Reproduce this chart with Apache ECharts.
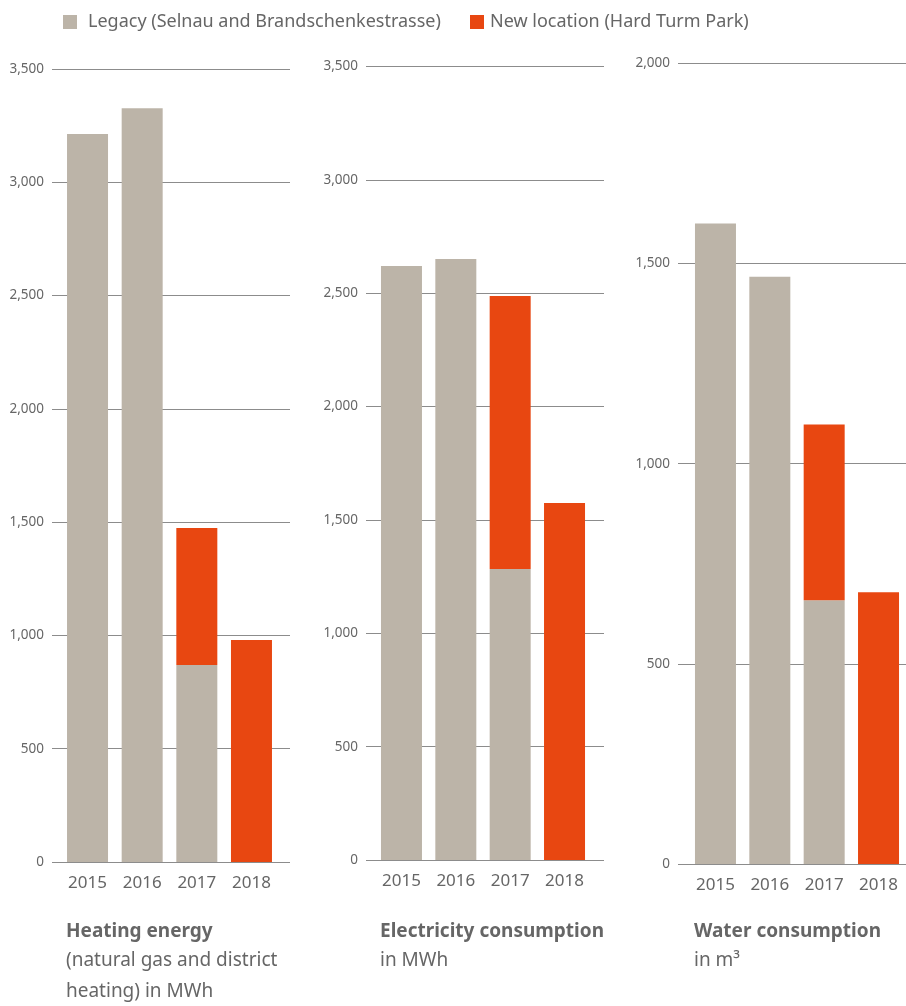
<!DOCTYPE html>
<html>
<head>
<meta charset="utf-8">
<script src="https://cdn.jsdelivr.net/npm/echarts@6/dist/echarts.min.js"></script>
<style>
html,body{margin:0;padding:0;background:#fff;}
#chart{width:906px;height:1006px;}
</style>
</head>
<body>
<div id="chart"></div>
<script>
// ---- data ----
const years = ['2015', '2016', '2017', '2018'];
const seriesNames = ['Legacy (Selnau and Brandschenkestrasse)', 'New location (Hard Turm Park)'];

const heatingLegacy = [3213, 3327, 869, null];
const heatingNew = [null, null, 605, 980];

const electricityLegacy = [2620, 2651, 1284, null];
const electricityNew = [null, null, 1204, 1575];

const waterLegacy = [1600, 1467, 659, null];
const waterNew = [null, null, 439, 679];

const heatingTitle = ['Heating energy', '(natural gas and district', 'heating) in MWh'];
const electricityTitle = ['Electricity consumption', 'in MWh'];
const waterTitle = ['Water consumption', 'in m³'];

const axisMax = [3500, 3500, 2000];
const axisInterval = [500, 500, 500];

// ---- layout ----
const FONT = 'Noto Sans';
const TEXT = '#666666';
const GREY = '#bcb4a8';
const RED = '#e84711';

const panels = [
  { legacy: heatingLegacy, neu: heatingNew, title: heatingTitle, lineL: 52, lineR: 290, bandL: 60.2, bandR: 278.8, top: 69, zero: 862, titleX: 66 },
  { legacy: electricityLegacy, neu: electricityNew, title: electricityTitle, lineL: 366, lineR: 604, bandL: 374.3, bandR: 591.7, top: 66.6, zero: 860, titleX: 380 },
  { legacy: waterLegacy, neu: waterNew, title: waterTitle, lineL: 678, lineR: 906, bandL: 688.3, bandR: 905.7, top: 63.4, zero: 864, titleX: 694 }
];

const grid = [], xAxis = [], yAxis = [], series = [], graphic = [];

panels.forEach((p, i) => {
  const gA = grid.length;
  grid.push({ left: p.lineL, width: p.lineR - p.lineL, top: p.top, height: p.zero - p.top, containLabel: false });
  const gB = grid.length;
  grid.push({ left: p.bandL, width: p.bandR - p.bandL, top: p.top, height: p.zero - p.top, containLabel: false });

  xAxis.push({ gridIndex: gA, type: 'value', min: 0, max: 1, show: false });
  xAxis.push({
    gridIndex: gB, type: 'category', data: years,
    axisLine: { show: false }, axisTick: { show: false },
    axisLabel: { fontFamily: FONT, fontSize: 17, color: TEXT, margin: 13 }
  });

  yAxis.push({
    gridIndex: gA, type: 'value', min: 0, max: axisMax[i], interval: axisInterval[i],
    axisLine: { show: false }, axisTick: { show: false },
    axisLabel: { fontFamily: FONT, fontSize: 13.5, color: TEXT, margin: 8 },
    splitLine: { show: true, lineStyle: { color: '#8c8c8c', width: 1 } }
  });
  yAxis.push({ gridIndex: gB, type: 'value', min: 0, max: axisMax[i], show: false, splitLine: { show: false } });

  series.push({
    name: seriesNames[0], type: 'bar', stack: 's' + i, xAxisIndex: gB, yAxisIndex: gB,
    barWidth: 41, data: p.legacy, itemStyle: { color: GREY }, silent: true
  });
  series.push({
    name: seriesNames[1], type: 'bar', stack: 's' + i, xAxisIndex: gB, yAxisIndex: gB,
    barWidth: 41, data: p.neu, itemStyle: { color: RED }, silent: true
  });

  p.title.forEach((t, k) => {
    graphic.push({
      type: 'text', left: p.titleX, top: (k === 0 ? 922 : 920) + k * 31,
      style: {
        text: t, fill: TEXT,
        font: (k === 0 ? 'bold 19px ' : '19px ') + '"' + FONT + '"'
      }
    });
  });
});

const option = {
  animation: false,
  backgroundColor: '#ffffff',
  legend: [
    { data: [seriesNames[0]], left: 58, top: 8, icon: 'rect', itemWidth: 14, itemHeight: 14, selectedMode: false,
      textStyle: { fontFamily: FONT, fontSize: 18, color: TEXT, padding: [0, 0, 0, 6] } },
    { data: [seriesNames[1]], left: 465, top: 8, icon: 'rect', itemWidth: 14, itemHeight: 14, selectedMode: false,
      textStyle: { fontFamily: FONT, fontSize: 18, color: TEXT, padding: [0, 0, 0, 1] } }
  ],
  grid, xAxis, yAxis, series, graphic
};

const chart = echarts.init(document.getElementById('chart'), null, { renderer: 'canvas' });
chart.setOption(option);
</script>
</body>
</html>
